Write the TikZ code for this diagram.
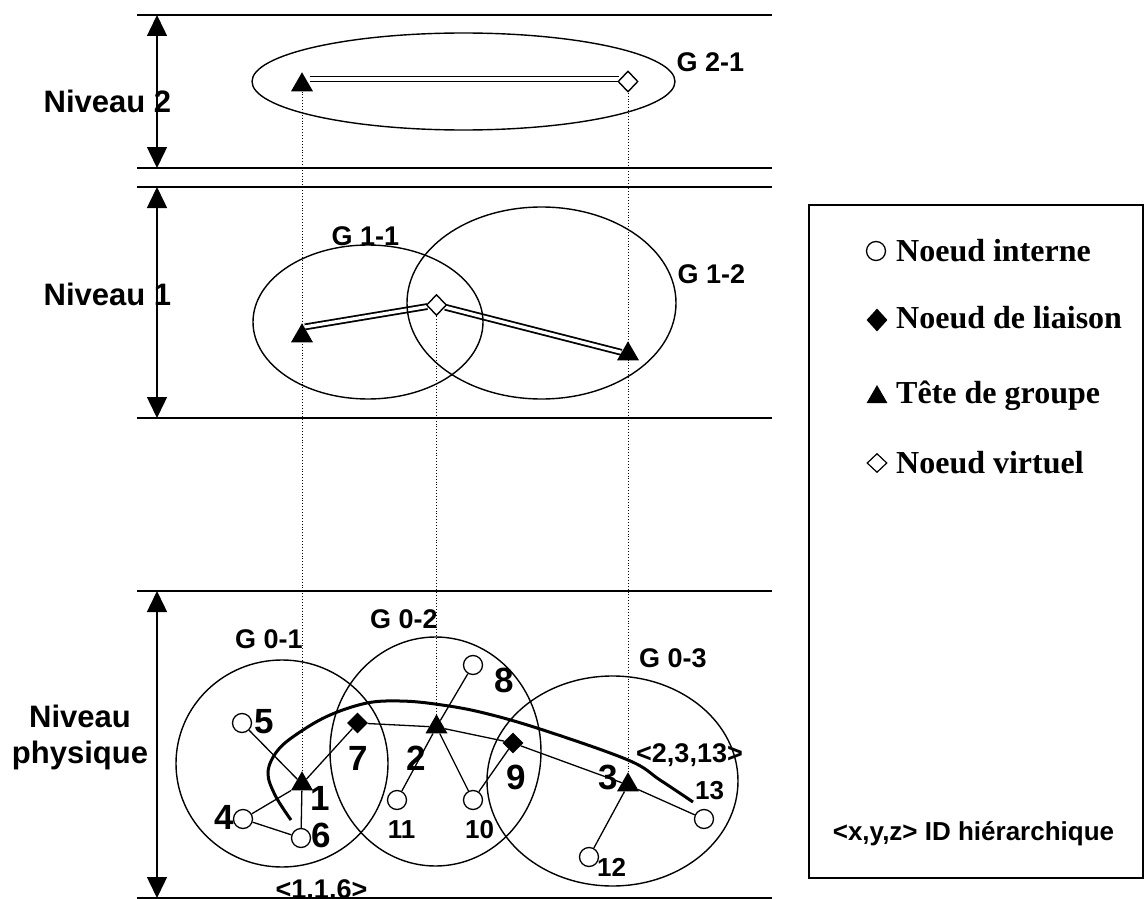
\documentclass[tikz,border=0pt]{standalone}
\usepackage{fontspec}
\setmainfont{Liberation Serif}
\setsansfont{Liberation Sans}
\usetikzlibrary{shapes.geometric,arrows.meta,backgrounds}
\begin{document}
\begin{tikzpicture}[x=1pt,y=-1pt,
  hline/.style={line width=1.5pt},
  dim/.style={line width=1.5pt,{Triangle[width=20pt,length=21pt]}-{Triangle[width=20pt,length=21pt]}},
  grp/.style={line width=1.4pt},
  lnk/.style={line width=1.3pt},
  proj/.style={line width=0.9pt, dotted},
  dbl/.style={line width=1.8pt, double, double distance=3.2pt},
  curvy/.style={line width=3pt},
  cn/.style={circle, draw, fill=white, line width=1.3pt, minimum size=19pt, inner sep=0pt},
  ln/.style={diamond, fill=black, minimum width=21pt, minimum height=21pt, inner sep=0pt},
  vn/.style={diamond, draw, fill=white, line width=1.4pt, minimum width=20pt, minimum height=21pt, inner sep=0pt},
  th/.style={regular polygon, regular polygon sides=3, fill=black, minimum size=25.4pt, inner sep=0pt},
  lvl/.style={font=\sffamily\bfseries\fontsize{31}{36}\selectfont, inner sep=0pt},
  glab/.style={font=\sffamily\bfseries\fontsize{27}{32}\selectfont, inner sep=0pt, anchor=base},
  big/.style={font=\sffamily\bfseries\fontsize{35}{40}\selectfont, inner sep=0pt, anchor=base},
  small/.style={font=\sffamily\bfseries\fontsize{26}{30}\selectfont, inner sep=0pt, anchor=base},
  leg/.style={font=\rmfamily\bfseries\fontsize{32}{38}\selectfont, inner sep=0pt, anchor=base west},
  legid/.style={font=\sffamily\bfseries\fontsize{26}{30}\selectfont, inner sep=0pt, anchor=base},
]
\useasboundingbox (0,0) rectangle (1144,899);

% horizontal level lines
\draw[hline] (137,15) -- (772,15);
\draw[hline] (137,168) -- (772,168);
\draw[hline] (137,187) -- (772,187);
\draw[hline] (137,418) -- (772,418);
\draw[hline] (137,591) -- (772,591);
\draw[hline] (137,898) -- (772,898);

% dimension arrows
\draw[dim] (157,15) -- (157,168);
\draw[dim] (157,187) -- (157,418);
\draw[dim] (157,591) -- (157,898);

% level labels
\node[lvl, anchor=base] (nv2) at (107.5,113) {Niveau 2};
\node[lvl, anchor=base] (nv1) at (107.5,305) {Niveau 1};
\node[lvl, align=center] (nv0) at (80,737) {Niveau\\physique};

% groups
\draw[grp] (463.5,81.5) ellipse [x radius=211.5pt, y radius=48.5pt];
\draw[grp] (368,322) ellipse [x radius=115pt, y radius=77pt];
\draw[grp] (541.5,303) ellipse [x radius=134.5pt, y radius=96pt];
\draw[grp] (282,763.5) ellipse [x radius=106pt, y radius=103.5pt];
\draw[grp] (435.5,751.5) ellipse [x radius=105.5pt, y radius=114.5pt];
\draw[grp] (612.5,781) ellipse [x radius=125.5pt, y radius=105pt];

\node[glab] (g21) at (710.5,72) {G 2-1};
\node[glab] (g11) at (365.5,245) {G 1-1};
\node[glab] (g12) at (711.5,283) {G 1-2};
\node[glab] (g01) at (269,648) {G 0-1};
\node[glab] (g02) at (404,628) {G 0-2};
\node[glab] (g03) at (673,667) {G 0-3};
\node[glab] (id1) at (321.5,898) {<1,1,6>};
\node[glab] (id2) at (689.5,762) {<2,3,13>};

% level 2 nodes
\node[th] (t2) at (302,85) {};
\node[vn] (v2) at (628,81.5) {};
% level 1 nodes
\node[th] (t11) at (302,336) {};
\node[vn] (v1) at (436.5,305) {};
\node[th] (t12) at (628,354) {};
% level 0 nodes
\node[cn] (n5) at (242,723) {};
\node[th] (n1) at (302,784) {};
\node[cn] (n4) at (243,819) {};
\node[cn] (n6) at (301,838) {};
\node[ln] (n7) at (357.5,723) {};
\node[th] (n2) at (436.5,727) {};
\node[cn] (n11) at (397,800) {};
\node[cn] (n10) at (473,800) {};
\node[cn] (n8) at (473,665) {};
\node[ln] (n9) at (513,743) {};
\node[th] (n3) at (628,785) {};
\node[cn] (n13) at (704,819) {};
\node[cn] (n12) at (589,857) {};

% node labels
\node[big] (l5) at (264,733) {5};
\node[big] (l4) at (224,829) {4};
\node[big] (l1) at (320.5,810) {1};
\node[big] (l6) at (321.5,847) {6};
\node[big] (l7) at (358.5,770) {7};
\node[big] (l2) at (416.5,770) {2};
\node[big] (l8) at (504,692) {8};
\node[big] (l9) at (516.5,789) {9};
\node[big] (l3) at (608.5,789) {3};
\node[small] (l11) at (401.5,838) {11};
\node[small] (l10) at (479.5,838) {10};
\node[small] (l13) at (709.5,799) {13};
\node[small] (l12) at (611.5,876) {12};

\begin{scope}[on background layer]
  % projections
  \draw[proj] (t2) -- (n1);
  \draw[proj] (v1) -- (n2);
  \draw[proj] (v2) -- (n3);
  % level 2 / level 1 links
  \draw[dbl] ([shift={(8,-6)}]t2.center) -- ([shift={(-9,-2.5)}]v2.center);
  \draw[dbl] ([shift={(3,4)}]t11.corner 1) -- (v1);
  \draw[dbl] (v1) -- (t12);
  % physical links
  \draw[lnk] (n5) -- (n1);
  \draw[lnk] (n1) -- (n7);
  \draw[lnk] (n1) -- (n4);
  \draw[lnk] (n1) -- (n6);
  \draw[lnk] (n4) -- (n6);
  \draw[lnk] (n7) -- (n2);
  \draw[lnk] (n2) -- (n11);
  \draw[lnk] (n2) -- (n8);
  \draw[lnk] (n2) -- (n10);
  \draw[lnk] (n2) -- (n9);
  \draw[lnk] (n9) -- (n3);
  \draw[lnk] (n9) -- (n10);
  \draw[lnk] (n3) -- (n13);
  \draw[lnk] (n3) -- (n12);
\end{scope}

% hierarchical route
\draw[curvy] plot[smooth, tension=0.6] coordinates {(291,820) (275,795) (268,772) (278,750) (300,732) (330,715) (367,703) (400,701) (435,704) (480,712) (540,729) (628,760) (660,780) (693,802)};

% legend
\draw[line width=1.5pt] (809,205) rectangle (1143,878);
\node[cn, line width=1.3pt] (sc) at (876,251) {};
\node[leg] (tc) at (896,261) {Noeud interne};
\node[ln, minimum width=21pt, minimum height=23pt] (sl) at (877,320) {};
\node[leg] (tl) at (896,328) {Noeud de liaison};
\node[th, minimum size=24pt] (st) at (877,397) {};
\node[leg] (tt) at (896,403) {Tête de groupe};
\node[vn, line width=1.2pt, minimum width=20pt, minimum height=19pt] (sv) at (877,463) {};
\node[leg] (tv) at (896,473) {Noeud virtuel};
\node[legid] (tid) at (973.5,840) {<x,y,z> ID hiérarchique};
\end{tikzpicture}
\end{document}
